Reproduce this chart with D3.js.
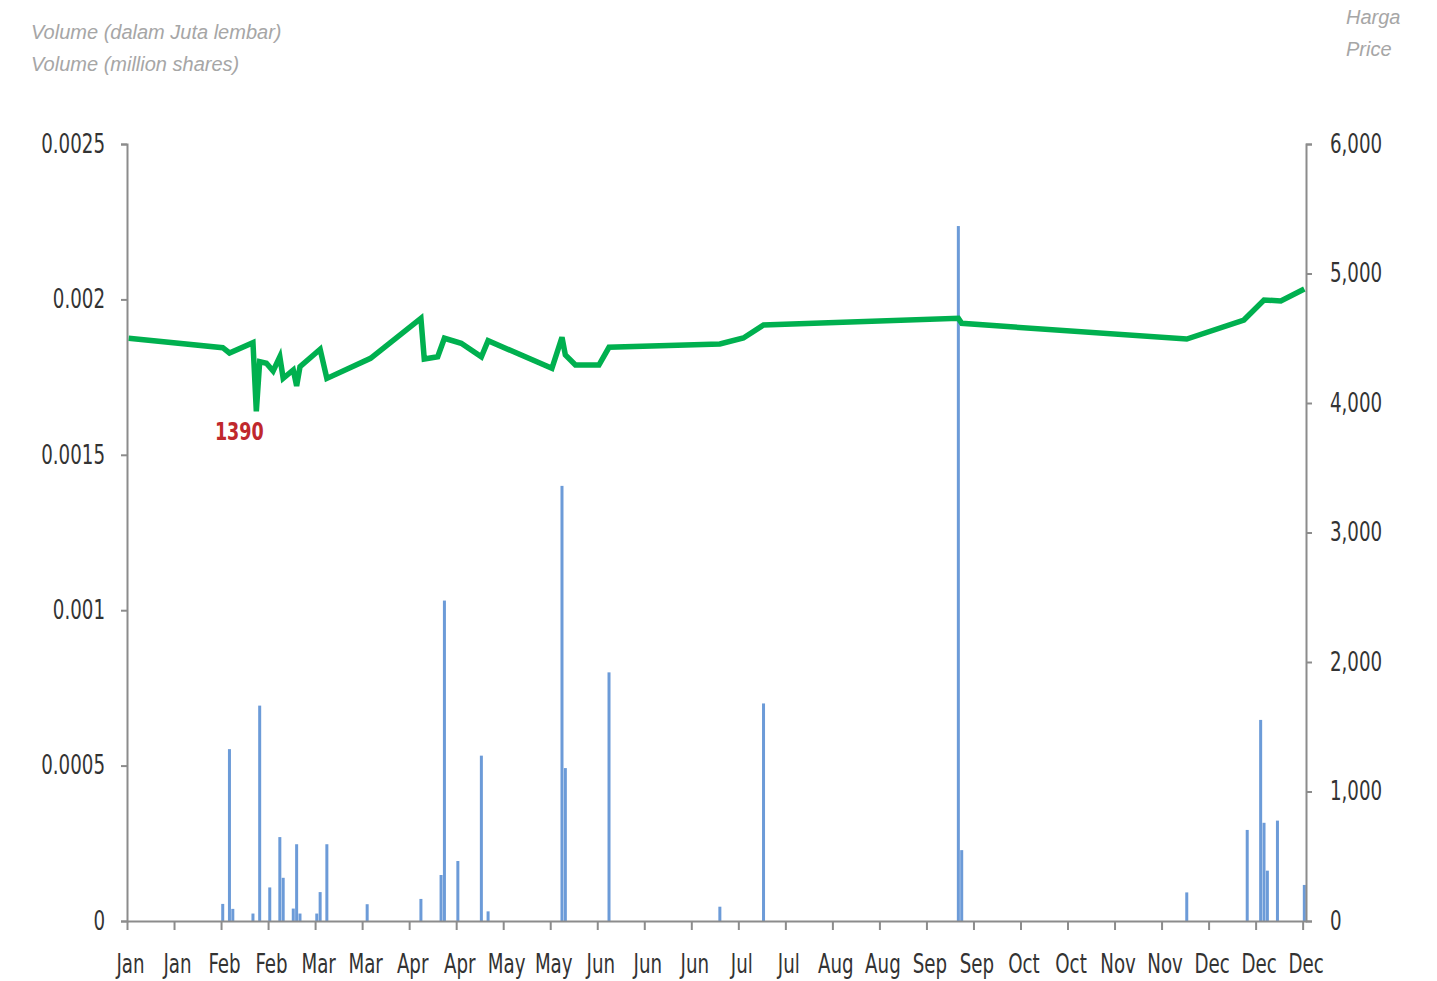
<!DOCTYPE html>
<html>
<head>
<meta charset="utf-8">
<script src="https://cdn.jsdelivr.net/npm/d3@7"></script>
<style>
  body { margin: 0; background: #fff; }
  .note { font-family: "Liberation Sans", Arial, sans-serif; font-style: italic; font-size: 20px; fill: #a6a6a6; }
  .tick text { font-family: "DejaVu Sans Condensed", "DejaVu Sans", sans-serif; font-size: 26px; fill: #333; }
</style>
</head>
<body>
<div id="chart"></div>
<script>
var w = 1437;
var h = 981;

// trading days with volume (million shares)
var volDates = ["2014-02-10", "2014-02-12", "2014-02-13", "2014-02-19", "2014-02-21", "2014-02-24",
  "2014-02-27", "2014-02-28", "2014-03-03", "2014-03-04", "2014-03-05", "2014-03-10", "2014-03-11",
  "2014-03-13", "2014-03-25", "2014-04-10", "2014-04-16", "2014-04-17", "2014-04-21", "2014-04-28",
  "2014-04-30", "2014-05-22", "2014-05-23", "2014-06-05", "2014-07-08", "2014-07-21", "2014-09-17",
  "2014-09-18", "2014-11-24", "2014-12-12", "2014-12-16", "2014-12-17", "2014-12-18", "2014-12-21",
  "2014-12-29"];
var volValues = [0.000055, 0.000553, 0.000039, 0.000024, 0.000693, 0.000108,
  0.00027, 0.000139, 0.00004, 0.000247, 0.000024, 0.000024, 0.000093,
  0.000247, 0.000054, 0.000071, 0.000148, 0.001031, 0.000193, 0.000532,
  0.000031, 0.0014, 0.000492, 0.0008, 0.000046, 0.0007, 0.002236,
  0.000228, 0.000092, 0.000293, 0.000647, 0.000316, 0.000162, 0.000323,
  0.000116];

// closing price
var priceDates = ["2014-01-13", "2014-02-10", "2014-02-12", "2014-02-19", "2014-02-20", "2014-02-21",
  "2014-02-23", "2014-02-25", "2014-02-27", "2014-02-28", "2014-03-03", "2014-03-04", "2014-03-05",
  "2014-03-11", "2014-03-13", "2014-03-26", "2014-04-10", "2014-04-11", "2014-04-15", "2014-04-17",
  "2014-04-22", "2014-04-28", "2014-04-30", "2014-05-19", "2014-05-22", "2014-05-23", "2014-05-26",
  "2014-06-02", "2014-06-05", "2014-07-08", "2014-07-15", "2014-07-21", "2014-09-17", "2014-09-18",
  "2014-11-24", "2014-12-11", "2014-12-17", "2014-12-22", "2014-12-29"];
var priceValues = [4500, 4427, 4386, 4466, 3935, 4319,
  4307, 4247, 4357, 4191, 4255, 4131, 4280,
  4415, 4190, 4345, 4654, 4340, 4357, 4500,
  4461, 4357, 4481, 4268, 4507, 4371, 4293,
  4293, 4430, 4456, 4502, 4602, 4654, 4615,
  4494, 4641, 4795, 4788, 4880];

var volTicks = [0, 0.0005, 0.001, 0.0015, 0.002, 0.0025];
var priceTicks = [0, 1000, 2000, 3000, 4000, 5000, 6000];
var minLabel = "1390";

var parse = d3.timeParse("%Y-%m-%d");
var start = parse("2014-01-13");
var end = parse("2014-12-30");
var dayMid = function(s) { return d3.timeHour.offset(parse(s), 12); };

var plotL = 127, plotR = 1306, plotT = 144, plotB = 921;
var squeeze = 0.78;

var svg = d3.select("#chart").append("svg")
  .attr("width", w)
  .attr("height", h);

var x = d3.scaleTime().domain([start, end]).range([plotL, plotR]);
var yVol = d3.scaleLinear().domain([0, 0.0025]).range([plotB, plotT]);
var yPrice = d3.scaleLinear().domain([0, 6000]).range([plotB, plotT]);

var xTicks = d3.range(26).map(function(i) { return d3.timeDay.offset(start, 14 * i); });

// bars
svg.selectAll("rect.vol")
  .data(volDates)
  .enter()
  .append("rect")
  .attr("class", "vol")
  .attr("x", function(d) { return x(dayMid(d)) - 1.5; })
  .attr("y", function(d, i) { return yVol(volValues[i]); })
  .attr("width", 3)
  .attr("height", function(d, i) { return plotB - yVol(volValues[i]); })
  .attr("fill", "#6c9bd8");

// axes: grey lines, narrow tall labels like the original
function styleAxis(g) {
  g.selectAll("path, line").attr("stroke", "#8c8c8c").attr("stroke-width", 2);
  g.selectAll("text").each(function() {
    var t = d3.select(this);
    t.attr("x", (+t.attr("x") || 0) / squeeze)
     .attr("transform", "scale(" + squeeze + ",1)");
  });
}

svg.append("g")
  .attr("transform", "translate(" + plotL + ",0)")
  .call(d3.axisLeft(yVol).tickValues(volTicks).tickFormat(d3.format("~g")).tickSizeInner(6).tickSizeOuter(6).tickPadding(16))
  .call(styleAxis);

svg.append("g")
  .attr("transform", "translate(" + plotR + ",0)")
  .call(d3.axisRight(yPrice).tickValues(priceTicks).tickFormat(d3.format(",")).tickSizeInner(6).tickSizeOuter(6).tickPadding(18))
  .call(styleAxis);

svg.append("g")
  .attr("transform", "translate(0," + plotB + ")")
  .call(d3.axisBottom(x).tickValues(xTicks).tickFormat(d3.timeFormat("%b")).tickSizeInner(9).tickSizeOuter(0).tickPadding(25))
  .call(styleAxis)
  .selectAll("text").attr("dx", 3 / squeeze);

// price line
var line = d3.line()
  .x(function(d) { return x(dayMid(d)); })
  .y(function(d, i) { return yPrice(priceValues[i]); });

svg.append("path")
  .datum(priceDates)
  .attr("d", line)
  .attr("fill", "none")
  .attr("stroke", "#00b04f")
  .attr("stroke-width", 5.5)
  .attr("stroke-linejoin", "miter");

// lowest price label
var minIdx = d3.minIndex(priceValues);
var lx = x(dayMid(priceDates[minIdx])) - 17;
svg.append("text")
  .attr("x", lx / squeeze)
  .attr("y", yPrice(priceValues[minIdx]) + 29)
  .attr("transform", "scale(" + squeeze + ",1)")
  .attr("text-anchor", "middle")
  .attr("font-family", "DejaVu Sans Condensed, sans-serif")
  .attr("font-weight", "bold")
  .attr("font-size", 25)
  .attr("fill", "#c0282d")
  .text(minLabel);

// axis titles
svg.append("text").attr("class", "note").attr("x", 31).attr("y", 39).text("Volume (dalam Juta lembar)");
svg.append("text").attr("class", "note").attr("x", 31).attr("y", 71).text("Volume (million shares)");
svg.append("text").attr("class", "note").attr("x", 1346).attr("y", 24).text("Harga");
svg.append("text").attr("class", "note").attr("x", 1346).attr("y", 56).text("Price");
</script>
</body>
</html>
